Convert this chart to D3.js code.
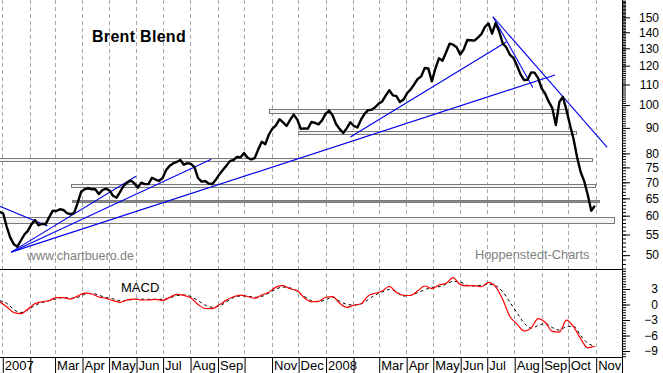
<!DOCTYPE html>
<html>
<head>
<meta charset="utf-8">
<script src="https://d3js.org/d3.v7.min.js"></script>
<style>
  body { margin: 0; background: #fff; }
  svg { display: block; font-family: "Liberation Sans", Arial, sans-serif; }
</style>
</head>
<body>
<div class="chart"></div>
<script>
const width = 663, height = 373;
const plotRight = 622, priceBottom = 269, macdBottom = 357;

// Brent closes, one reading every 4 days starting 29 Dec 2006
const priceStart = "2006-12-29";
const priceStep = 4;
const prices = [
    61.1, 60.6, 57.0, 54.2, 52.6, 52.0, 53.5, 55.0, 56.0, 57.7,
    58.8, 57.4, 57.8, 57.7, 59.6, 61.4, 61.3, 61.8, 61.6, 60.7,
    60.4, 60.7, 63.6, 67.0, 67.8, 68.1, 67.8, 67.8, 66.3, 67.5,
    68.0, 67.4, 65.8, 65.2, 67.0, 68.9, 69.9, 70.6, 69.7, 68.3,
    69.9, 69.4, 69.4, 71.5, 70.9, 70.5, 71.4, 74.1, 75.6, 76.4,
    76.9, 77.6, 75.9, 76.5, 76.2, 75.1, 71.4, 70.2, 70.4, 69.6,
    69.4, 70.8, 72.6, 74.1, 75.6, 77.2, 77.6, 78.7, 78.6, 80.1,
    78.4, 77.8, 78.3, 81.5, 84.4, 83.5, 87.3, 89.7, 91.1, 93.7,
    92.3, 90.8, 93.4, 95.7, 93.6, 89.6, 89.8, 89.7, 92.5, 92.1,
    91.5, 93.2, 96.0, 97.5, 95.3, 91.5, 89.5, 87.9, 89.9, 92.4,
    90.8, 90.2, 93.5, 96.0, 97.7, 97.9, 99.0, 100.7, 101.7, 104.6,
    107.1, 104.6, 104.2, 101.4, 102.6, 105.6, 107.5, 110.0, 112.8, 114.2,
    118.7, 118.5, 111.6, 118.4, 124.1, 122.7, 127.5, 132.8, 132.2, 130.6,
    126.3, 129.4, 135.1, 134.9, 134.7, 136.6, 138.9, 143.6, 145.8, 139.2,
    146.1, 140.5, 133.0, 130.6, 126.3, 124.4, 120.2, 115.4, 112.3, 112.4,
    116.3, 116.2, 113.3, 108.0, 105.4, 101.6, 98.6, 91.2, 101.5, 103.8,
    97.7, 91.2, 85.5, 78.6, 73.4, 70.4, 66.1, 61.4, 62.8
];

// MACD and signal line, one reading every 8 days
const macdStart = "2006-12-29";
const macdStep = 8;
const macdValues = [
    0.54, -0.43, -1.55, -1.78, -0.87, 0.19, 0.54, 0.77, 1.35, 1.33,
    1.06, 1.62, 2.22, 2.03, 1.45, 1.20, 0.75, 0.43, 0.91, 1.06,
    0.87, 0.87, 0.99, 0.79, 1.39, 1.97, 1.76, 1.26, 0.02, -0.77,
    -0.81, -0.06, 0.85, 1.51, 1.82, 1.55, 1.20, 1.84, 2.36, 3.37,
    3.64, 3.04, 2.67, 1.30, 0.54, 0.62, 1.41, 1.53, 0.23, -0.54,
    -0.14, 0.14, 1.66, 2.17, 2.61, 3.52, 2.32, 1.78, 1.74, 2.65,
    3.58, 3.09, 3.77, 4.10, 5.22, 3.85, 3.62, 3.66, 3.44, 4.27,
    3.42, 0.97, -2.26, -3.75, -5.13, -4.56, -2.71, -3.44, -5.18, -5.32,
    -3.00, -4.29, -6.60, -8.37, -8.08
];
const signalValues = [
    0.74, 0.23, -0.97, -1.55, -1.03, -0.15, 0.37, 0.75, 1.10, 1.35,
    1.22, 1.37, 1.99, 2.17, 1.80, 1.35, 1.08, 0.74, 0.79, 1.04,
    1.03, 1.01, 1.01, 1.01, 1.28, 1.74, 1.84, 1.55, 0.74, -0.10,
    -0.52, -0.29, 0.50, 1.33, 1.66, 1.62, 1.39, 1.57, 2.21, 2.98,
    3.37, 3.21, 2.57, 1.57, 0.75, 0.54, 0.93, 1.39, 0.64, 0.04,
    -0.10, 0.12, 0.95, 1.84, 2.42, 2.90, 2.48, 1.64, 1.78, 2.32,
    2.84, 3.33, 3.44, 3.97, 4.47, 4.35, 3.71, 3.58, 3.71, 3.93,
    3.64, 2.44, 0.48, -1.57, -3.54, -4.55, -4.08, -3.66, -4.45, -4.95,
    -4.27, -4.20, -6.00, -7.49, -8.03
];

const priceLabels = [50, 55, 60, 65, 70, 75, 80, 90, 100, 110, 120, 130, 140, 150];
const macdLabels = [-9, -6, -3, 0, 3];
const monthNames = ["2007", "", "Mar", "Apr", "May", "Jun", "Jul", "Aug", "Sep", "", "Nov", "Dec",
                    "2008", "", "Mar", "Apr", "May", "Jun", "Jul", "Aug", "Sep", "Oct", "Nov"];

// support / resistance zones
const zones = [
    {from: "2006-12-28", to: "2008-10-27", low: 77.0, high: 78.2, solid: false},
    {from: "2007-03-20", to: "2008-11-01", low: 68.4, high: 69.3, solid: false},
    {from: "2007-03-21", to: "2008-11-05", low: 64.1, high: 64.6, solid: true},
    {from: "2006-12-28", to: "2008-11-21", low: 57.9, high: 59.5, solid: false},
    {from: "2007-10-29", to: "2008-10-01", low: 96.2, high: 98.0, solid: false},
    {from: "2007-12-01", to: "2008-10-10", low: 87.3, high: 88.7, solid: false}
];

// blue trend lines
const trendLines = [
    {from: "2006-12-29", p0: 62.7, to: "2007-02-21", p1: 57.2},
    {from: "2007-01-11", p0: 50.7, to: "2007-06-01", p1: 72.0},
    {from: "2007-01-11", p0: 50.7, to: "2007-08-25", p1: 77.9},
    {from: "2007-01-11", p0: 50.7, to: "2008-09-16", p1: 114.9},
    {from: "2008-01-29", p0: 86.3, to: "2008-07-23", p1: 133.8},
    {from: "2008-07-08", p0: 150.4, to: "2008-08-22", p1: 108.5},
    {from: "2008-07-08", p0: 150.4, to: "2008-11-14", p1: 82.3}
];

const parse = d3.timeParse("%Y-%m-%d");

function init() {
    const svg = d3.select(".chart")
        .append("svg")
        .attr("width", width)
        .attr("height", height);

    const x = d3.scaleTime()
        .domain([parse("2007-01-01"), parse("2008-11-01")])
        .range([2.3, 595.7]);
    const yPrice = d3.scaleLog()
        .domain([46.9, 162.5])
        .range([priceBottom, 0]);
    const yMacd = d3.scaleLinear()
        .domain([-10.15, 6.87])
        .range([macdBottom, priceBottom]);

    const months = d3.timeMonth.range(parse("2007-01-01"), parse("2008-11-02"));

    svg.append("defs").append("clipPath").attr("id", "clipPrice")
        .append("rect").attr("x", 0).attr("y", 0).attr("width", plotRight).attr("height", priceBottom);
    svg.select("defs").append("clipPath").attr("id", "clipMacd")
        .append("rect").attr("x", 0).attr("y", priceBottom).attr("width", plotRight).attr("height", macdBottom - priceBottom);

    // dashed month grid
    svg.append("g")
        .selectAll("line")
        .data(months)
        .join("line")
        .attr("x1", d => Math.round(x(d)) + 0.5)
        .attr("x2", d => Math.round(x(d)) + 0.5)
        .attr("y1", 0)
        .attr("y2", macdBottom)
        .attr("stroke", "#a8a8a8")
        .attr("stroke-dasharray", "4,3");

    // price panel
    const pricePanel = svg.append("g").attr("clip-path", "url(#clipPrice)");

    pricePanel.selectAll("rect.zone")
        .data(zones)
        .join("rect")
        .attr("class", "zone")
        .attr("x", d => Math.round(x(parse(d.from))) + 0.5)
        .attr("y", d => Math.round(yPrice(d.high)) + 0.5)
        .attr("width", d => Math.round(x(parse(d.to)) - x(parse(d.from))))
        .attr("height", d => Math.max(1, Math.round(yPrice(d.low) - yPrice(d.high))))
        .attr("fill", d => d.solid ? "#8c8c8c" : "#f4f4f4")
        .attr("stroke", "#7a7a7a")
        .attr("stroke-width", 1);

    pricePanel.selectAll("line.trend")
        .data(trendLines)
        .join("line")
        .attr("class", "trend")
        .attr("x1", d => x(parse(d.from)))
        .attr("y1", d => yPrice(d.p0))
        .attr("x2", d => x(parse(d.to)))
        .attr("y2", d => yPrice(d.p1))
        .attr("stroke", "#0000f0")
        .attr("stroke-width", 1.1);

    const start = parse(priceStart);
    const priceLine = d3.line()
        .x((d, i) => x(d3.timeDay.offset(start, i * priceStep)))
        .y(d => yPrice(d));
    pricePanel.append("path")
        .datum(prices)
        .attr("d", priceLine)
        .attr("fill", "none")
        .attr("stroke", "#000")
        .attr("stroke-width", 2.4)
        .attr("stroke-linejoin", "round");

    svg.append("text")
        .attr("x", 92).attr("y", 42)
        .attr("font-size", 16).attr("font-weight", "bold")
        .attr("letter-spacing", 0.3)
        .text("Brent Blend");
    svg.append("text")
        .attr("x", 27).attr("y", 260)
        .attr("font-size", 12.5).attr("fill", "#808080")
        .text("www.chartbuero.de");
    svg.append("text")
        .attr("x", 475).attr("y", 258.5)
        .attr("font-size", 12.8).attr("fill", "#808080")
        .text("Hoppenstedt-Charts");

    // MACD panel
    const macdPanel = svg.append("g").attr("clip-path", "url(#clipMacd)");
    const mStart = parse(macdStart);
    const macdLine = d3.line()
        .x((d, i) => x(d3.timeDay.offset(mStart, i * macdStep)))
        .y(d => yMacd(d))
        .curve(d3.curveMonotoneX);
    macdPanel.append("path")
        .datum(signalValues)
        .attr("d", macdLine)
        .attr("fill", "none")
        .attr("stroke", "#000")
        .attr("stroke-width", 1)
        .attr("stroke-dasharray", "3,3");
    macdPanel.append("path")
        .datum(macdValues)
        .attr("d", macdLine)
        .attr("fill", "none")
        .attr("stroke", "#ff0000")
        .attr("stroke-width", 1.2);

    svg.append("text")
        .attr("x", 121).attr("y", 291.5)
        .attr("font-size", 13)
        .text("MACD");

    // frame lines
    svg.append("line").attr("x1", 0).attr("x2", plotRight).attr("y1", priceBottom + 0.5).attr("y2", priceBottom + 0.5).attr("stroke", "#000");
    svg.append("line").attr("x1", 0).attr("x2", plotRight).attr("y1", macdBottom + 0.5).attr("y2", macdBottom + 0.5).attr("stroke", "#000");
    svg.append("line").attr("x1", plotRight + 0.5).attr("x2", plotRight + 0.5).attr("y1", 0).attr("y2", height).attr("stroke", "#000");

    // right price axis
    const priceMinor = svg.append("g")
        .attr("transform", `translate(${plotRight},0)`)
        .call(d3.axisRight(yPrice).tickValues(d3.range(47, 163)).tickSize(4).tickFormat(""));
    priceMinor.select(".domain").remove();
    const priceMajor = svg.append("g")
        .attr("transform", `translate(${plotRight},0)`)
        .call(d3.axisRight(yPrice).tickValues(priceLabels).tickSize(8).tickFormat(d3.format("d")));
    priceMajor.select(".domain").remove();
    priceMajor.selectAll("text")
        .attr("x", 37).attr("text-anchor", "end")
        .attr("font-size", 12).attr("font-family", "Liberation Sans, Arial, sans-serif");

    // right MACD axis
    const macdMinor = svg.append("g")
        .attr("transform", `translate(${plotRight},0)`)
        .call(d3.axisRight(yMacd).tickValues(d3.range(-10, 7, 0.5)).tickSize(4).tickFormat(""));
    macdMinor.select(".domain").remove();
    const macdMajor = svg.append("g")
        .attr("transform", `translate(${plotRight},0)`)
        .call(d3.axisRight(yMacd).tickValues(macdLabels).tickSize(8).tickFormat(d3.format("d")));
    macdMajor.select(".domain").remove();
    macdMajor.selectAll("text")
        .attr("x", 36).attr("text-anchor", "end")
        .attr("font-size", 12).attr("font-family", "Liberation Sans, Arial, sans-serif");

    // bottom month axis
    const xAxis = svg.append("g")
        .attr("transform", `translate(0,${macdBottom})`)
        .call(d3.axisBottom(x).tickValues(months).tickSize(16).tickFormat((d, i) => monthNames[i]));
    xAxis.select(".domain").remove();
    xAxis.selectAll(".tick line").attr("transform", "translate(0.5,0)");
    xAxis.selectAll("text")
        .attr("x", 2).attr("y", 4).attr("text-anchor", "start")
        .attr("font-size", 13).attr("font-family", "Liberation Sans, Arial, sans-serif");
}

init();
</script>
</body>
</html>
